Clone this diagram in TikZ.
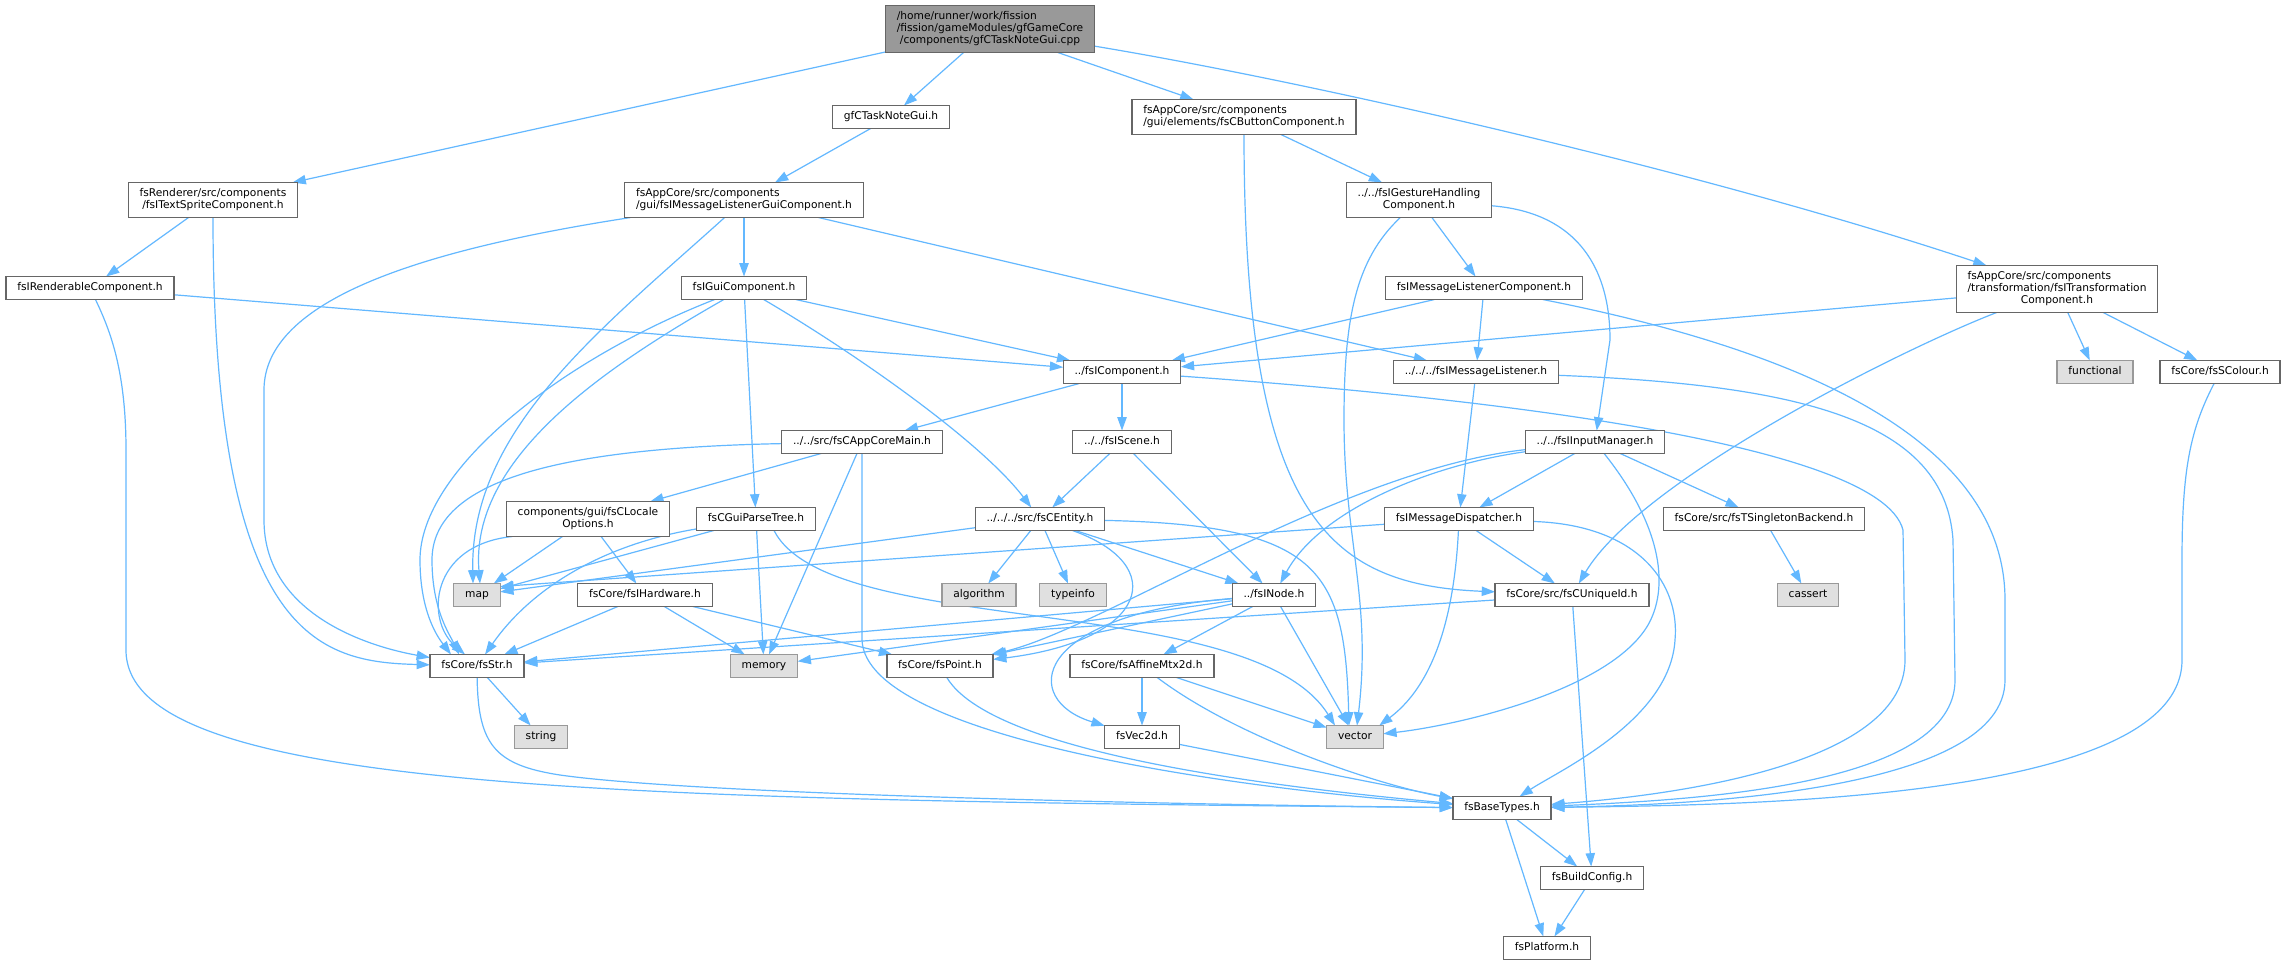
\documentclass[tikz,border=0pt]{standalone}
\usepackage{fontspec}
\setmainfont{DejaVu Sans}
\usetikzlibrary{arrows.meta,calc}
\pgfdeclarelayer{bg}
\pgfsetlayers{bg,main}
\definecolor{edgeblue}{HTML}{63B8FF}
\definecolor{boxline}{HTML}{666666}
\definecolor{sysline}{HTML}{999999}
\definecolor{sysfill}{HTML}{E0E0E0}
\definecolor{rootfill}{HTML}{999999}
\newcommand{\twolines}[2]{\begin{tabular}{@{}l@{}}#1\\\multicolumn{1}{@{}c@{}}{#2}\end{tabular}}
\newcommand{\threelines}[3]{\begin{tabular}{@{}l@{}}#1\\#2\\\multicolumn{1}{@{}c@{}}{#3}\end{tabular}}
\tikzset{
  hfile/.style={draw=boxline,fill=white,line width=1pt,inner xsep=8.5pt,inner ysep=4.125pt,
    outer sep=0pt,font=\fontsize{8}{9}\selectfont,execute at begin node=\strut},
  sysfile/.style={hfile,draw=sysline,fill=sysfill},
  rootfile/.style={hfile,fill=rootfill},
  inc/.style={draw=edgeblue,line width=0.9pt,-{Triangle[length=10pt,width=7pt]}},
}
\begin{document}
\begin{tikzpicture}[x=0.75pt,y=-0.75pt]
\useasboundingbox (0,0) rectangle (2287,965);
\begin{pgfonlayer}{bg}
\fill[white] (0,0) rectangle (2287,965);
\end{pgfonlayer}
% files, row by row
\node[rootfile] (root) at (990,29) {\threelines{/home/runner/work/fission}{/fission/gameModules/gfGameCore}{/components/gfCTaskNoteGui.cpp}};
\node[hfile] (taskgui) at (891,117) {gfCTaskNoteGui.h};
\node[hfile] (button) at (1244,117) {\twolines{fsAppCore/src/components}{/gui/elements/fsCButtonComponent.h}};
\node[hfile] (sprite) at (213,200) {\twolines{fsRenderer/src/components}{/fsITextSpriteComponent.h}};
\node[hfile] (listgui) at (744,200) {\twolines{fsAppCore/src/components}{/gui/fsIMessageListenerGuiComponent.h}};
\node[hfile] (gesture) at (1419,200) {\twolines{../../fsIGestureHandling}{Component.h}};
\node[hfile] (render) at (90,288) {fsIRenderableComponent.h};
\node[hfile] (guicomp) at (744,288) {fsIGuiComponent.h};
\node[hfile] (listcomp) at (1484,288) {fsIMessageListenerComponent.h};
\node[hfile] (transf) at (2057,289) {\threelines{fsAppCore/src/components}{/transformation/fsITransformation}{Component.h}};
\node[hfile] (comp) at (1122,372) {../fsIComponent.h};
\node[hfile] (listener) at (1476,372) {../../../fsIMessageListener.h};
\node[sysfile] (functional) at (2095,372) {functional};
\node[hfile] (colour) at (2220,372) {fsCore/fsSColour.h};
\node[hfile] (appmain) at (862,442) {../../src/fsCAppCoreMain.h};
\node[hfile] (scene) at (1122,442) {../../fsIScene.h};
\node[hfile] (input) at (1595,442) {../../fsIInputManager.h};
\node[hfile] (locale) at (588,519) {\twolines{components/gui/fsCLocale}{Options.h}};
\node[hfile] (parse) at (756,519) {fsCGuiParseTree.h};
\node[hfile] (entity) at (1040,519) {../../../src/fsCEntity.h};
\node[hfile] (dispatch) at (1459,519) {fsIMessageDispatcher.h};
\node[hfile] (singleton) at (1764,519) {fsCore/src/fsTSingletonBackend.h};
\node[sysfile] (map) at (477,595) {map};
\node[hfile] (hardware) at (645,595) {fsCore/fsIHardware.h};
\node[sysfile] (algorithm) at (979,595) {algorithm};
\node[sysfile] (typeinfo) at (1073,595) {typeinfo};
\node[hfile] (inode) at (1274,595) {../fsINode.h};
\node[hfile] (uid) at (1572,595) {fsCore/src/fsCUniqueId.h};
\node[sysfile] (cassert) at (1808,595) {cassert};
\node[hfile] (str) at (477,666) {fsCore/fsStr.h};
\node[sysfile] (memory) at (764,666) {memory};
\node[hfile] (point) at (940,666) {fsCore/fsPoint.h};
\node[hfile] (affine) at (1142,666) {fsCore/fsAffineMtx2d.h};
\node[sysfile] (string) at (541,737) {string};
\node[hfile] (vec) at (1142,737) {fsVec2d.h};
\node[sysfile] (vector) at (1355,737) {vector};
\node[hfile] (base) at (1502,808) {fsBaseTypes.h};
\node[hfile] (build) at (1592,878) {fsBuildConfig.h};
\node[hfile] (platform) at (1547,948) {fsPlatform.h};

\begin{pgfonlayer}{bg}
% straight includes
\foreach \a/\b in {root/sprite,root/taskgui,root/button,taskgui/listgui,button/gesture,
  sprite/render,render/comp,listgui/guicomp,listgui/listener,guicomp/comp,guicomp/parse,
  gesture/listcomp,listcomp/comp,listcomp/listener,transf/comp,transf/functional,transf/colour,
  comp/appmain,comp/scene,listener/dispatch,appmain/locale,appmain/memory,scene/entity,
  scene/inode,input/dispatch,input/singleton,entity/map,entity/algorithm,entity/typeinfo,
  entity/inode,dispatch/uid,singleton/cassert,locale/map,locale/hardware,parse/map,
  parse/memory,hardware/str,hardware/memory,hardware/point,inode/str,inode/memory,
  inode/point,inode/affine,inode/vector,uid/str,uid/build,str/string,affine/vec,
  affine/vector,vec/base,base/build,base/platform,build/platform}
  \draw[inc] (\a) -- (\b);
\draw[inc] (dispatch) -- ($(map.north east)+(0,3)$);
% curved includes
\draw[inc] (root) .. controls (1300,80) and (1700,170) .. (transf);
\draw[inc] (button) .. controls (1244,520) and (1330,585) .. (uid);
\draw[inc] (sprite) .. controls (213,640) and (320,662) .. (str);
\draw[inc] (render) .. controls (110,330) and (126,370) .. (126,450) -- (126,650)
  .. controls (126,790) and (600,800) .. (base);
\draw[inc] (listgui) .. controls (420,250) and (264,300) .. (264,390) -- (264,520)
  .. controls (264,610) and (360,645) .. (str);
\draw[inc] (listgui) .. controls (600,330) and (470,430) .. ($(map.north)+(-4,0)$);
\draw[inc] (guicomp) .. controls (850,350) and (980,440) .. (entity);
\draw[inc] (guicomp) .. controls (560,360) and (420,470) .. (420,560)
  .. controls (420,615) and (440,640) .. ($(str.north)+(-26,0)$);
\draw[inc] (guicomp) .. controls (600,370) and (470,460) .. ($(map.north)+(3,0)$);
\draw[inc] (gesture) .. controls (1570,212) and (1610,260) .. (1610,340) -- (input);
\draw[inc] (gesture) .. controls (1355,260) and (1344,320) .. (1344,420)
  .. controls (1344,540) and (1372,600) .. ($(vector.north)+(2,0)$);
\draw[inc] (listcomp) .. controls (1800,350) and (2005,440) .. (2005,600) -- (2005,680)
  .. controls (2005,790) and (1700,805) .. (base);
\draw[inc] (transf) .. controls (1900,350) and (1640,480) .. (uid);
\draw[inc] (comp) .. controls (1450,395) and (1880,440) .. (1903,530) -- (1905,660)
  .. controls (1905,770) and (1650,797) .. (base);
\draw[inc] (listener) .. controls (1800,385) and (1945,420) .. (1953,540) -- (1955,680)
  .. controls (1955,785) and (1700,800) .. (base);
\draw[inc] (colour) .. controls (2190,430) and (2182,470) .. (2182,560) -- (2182,660)
  .. controls (2182,800) and (1750,805) .. (base);
\draw[inc] (appmain) .. controls (560,448) and (432,480) .. (432,560)
  .. controls (432,610) and (450,635) .. ($(str.north)+(-18,0)$);
\draw[inc] (appmain) -- (862,640) .. controls (866,740) and (1250,790) .. (base);
\draw[inc] (input) .. controls (1430,465) and (1320,510) .. (inode);
\draw[inc] (input) .. controls (1340,470) and (1100,630) .. (point);
\draw[inc] (input) .. controls (1665,530) and (1668,590) .. (1648,625)
  .. controls (1610,690) and (1460,725) .. (vector);
\draw[inc] (entity) .. controls (1170,565) and (1150,640) .. (point);
\draw[inc] (entity) .. controls (1320,525) and (1345,570) .. ($(vector.north)+(-6,0)$);
\draw[inc] (dispatch) .. controls (1455,600) and (1440,680) .. ($(vector.north east)+(-4,0)$);
\draw[inc] (dispatch) .. controls (1640,525) and (1680,585) .. (1675,640)
  .. controls (1670,720) and (1560,770) .. (base);
\draw[inc] ($(locale.south west)+(6,0)$) .. controls (430,545) and (425,620) .. ($(str.north)+(-12,0)$);
\draw[inc] (parse) .. controls (600,545) and (530,590) .. (str);
\draw[inc] ($(parse.south)+(18,0)$) .. controls (830,640) and (1250,590) .. ($(vector.north)+(-20,0)$);
\draw[inc] (inode) .. controls (1030,615) and (1020,700) .. (vec);
\draw[inc] (str) .. controls (478,745) and (495,765) .. (560,775)
  .. controls (700,795) and (1200,805) .. (base);
\draw[inc] (point) .. controls (990,750) and (1250,785) .. (base);
\draw[inc] (affine) .. controls (1240,740) and (1380,785) .. (base);
\end{pgfonlayer}
\end{tikzpicture}
\end{document}
